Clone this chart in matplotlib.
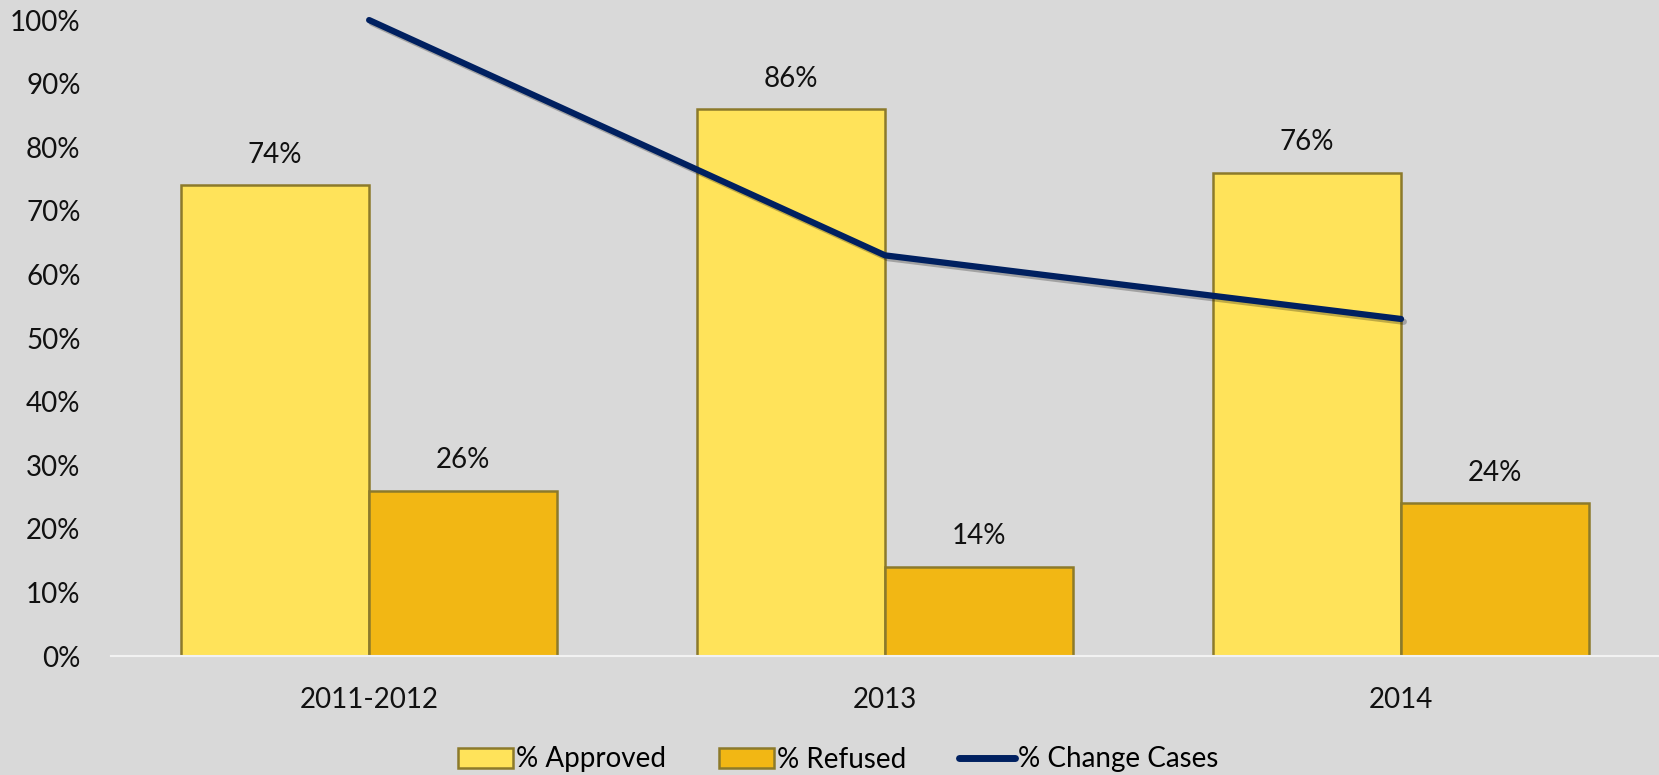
import matplotlib
matplotlib.use('Agg')
import matplotlib.pyplot as plt
import matplotlib.patheffects as pe
from matplotlib.patches import Patch
from matplotlib.lines import Line2D
import numpy as np

categories = ['2011-2012', '2013', '2014']
approved = [74, 86, 76]
refused = [26, 14, 24]
change_cases = [100, 63, 53]
yticks = [0, 10, 20, 30, 40, 50, 60, 70, 80, 90, 100]

plt.rcParams['font.family'] = ['Lato', 'DejaVu Sans']

BG = '#D9D9D9'
C_APP = '#FFE35A'
C_REF = '#F2B714'
C_EDGE = '#8C7A2B'
C_LINE = '#002060'


def main():
    fig = plt.figure(figsize=(16.59, 7.75), dpi=100, facecolor=BG)
    ax = fig.add_axes([0.067, 0.1535, 0.933, 0.8206], facecolor=BG)

    x = np.arange(len(categories))
    w = 0.365
    b1 = ax.bar(x - w / 2, approved, w, color=C_APP, edgecolor=C_EDGE, linewidth=1.8, zorder=2)
    b2 = ax.bar(x + w / 2, refused, w, color=C_REF, edgecolor=C_EDGE, linewidth=1.8, zorder=2)

    for bars, vals in ((b1, approved), (b2, refused)):
        for r, v in zip(bars, vals):
            ax.annotate(f'{v}%', (r.get_x() + r.get_width() / 2, v),
                        xytext=(0, 22), textcoords='offset points',
                        ha='center', va='center', fontsize=20, color='#111111')

    ax.plot(x, change_cases, color=C_LINE, linewidth=4.5, solid_capstyle='round',
            zorder=3, clip_on=False,
            path_effects=[pe.SimpleLineShadow(offset=(2, -2), alpha=0.25), pe.Normal()])

    ax.set_xlim(-0.5, len(categories) - 0.5)
    ax.set_ylim(0, 100)
    ax.set_yticks(yticks)
    ax.set_yticklabels([f'{t}%' for t in yticks])
    ax.set_xticks(x)
    ax.set_xticklabels(categories)
    ax.tick_params(axis='y', length=0, pad=22, labelsize=20, labelcolor='#111111')
    ax.tick_params(axis='x', length=0, pad=22, labelsize=20, labelcolor='#111111')

    for s in ('top', 'right', 'left'):
        ax.spines[s].set_visible(False)
    ax.spines['bottom'].set_color('#F2F2F2')
    ax.spines['bottom'].set_linewidth(1.5)

    handles = [
        Patch(facecolor=C_APP, edgecolor=C_EDGE, linewidth=1.8, label='% Approved'),
        Patch(facecolor=C_REF, edgecolor=C_EDGE, linewidth=1.8, label='% Refused'),
        Line2D([0], [0], color=C_LINE, linewidth=5, solid_capstyle='round', label='% Change Cases'),
    ]
    fig.legend(handles=handles, loc='center', bbox_to_anchor=(0.505, 0.02), ncol=3,
               frameon=False, fontsize=20, handlelength=2.0, handletextpad=0.1,
               columnspacing=1.9)

    fig.savefig('out.png', dpi=100, facecolor=BG)


if __name__ == '__main__':
    main()
